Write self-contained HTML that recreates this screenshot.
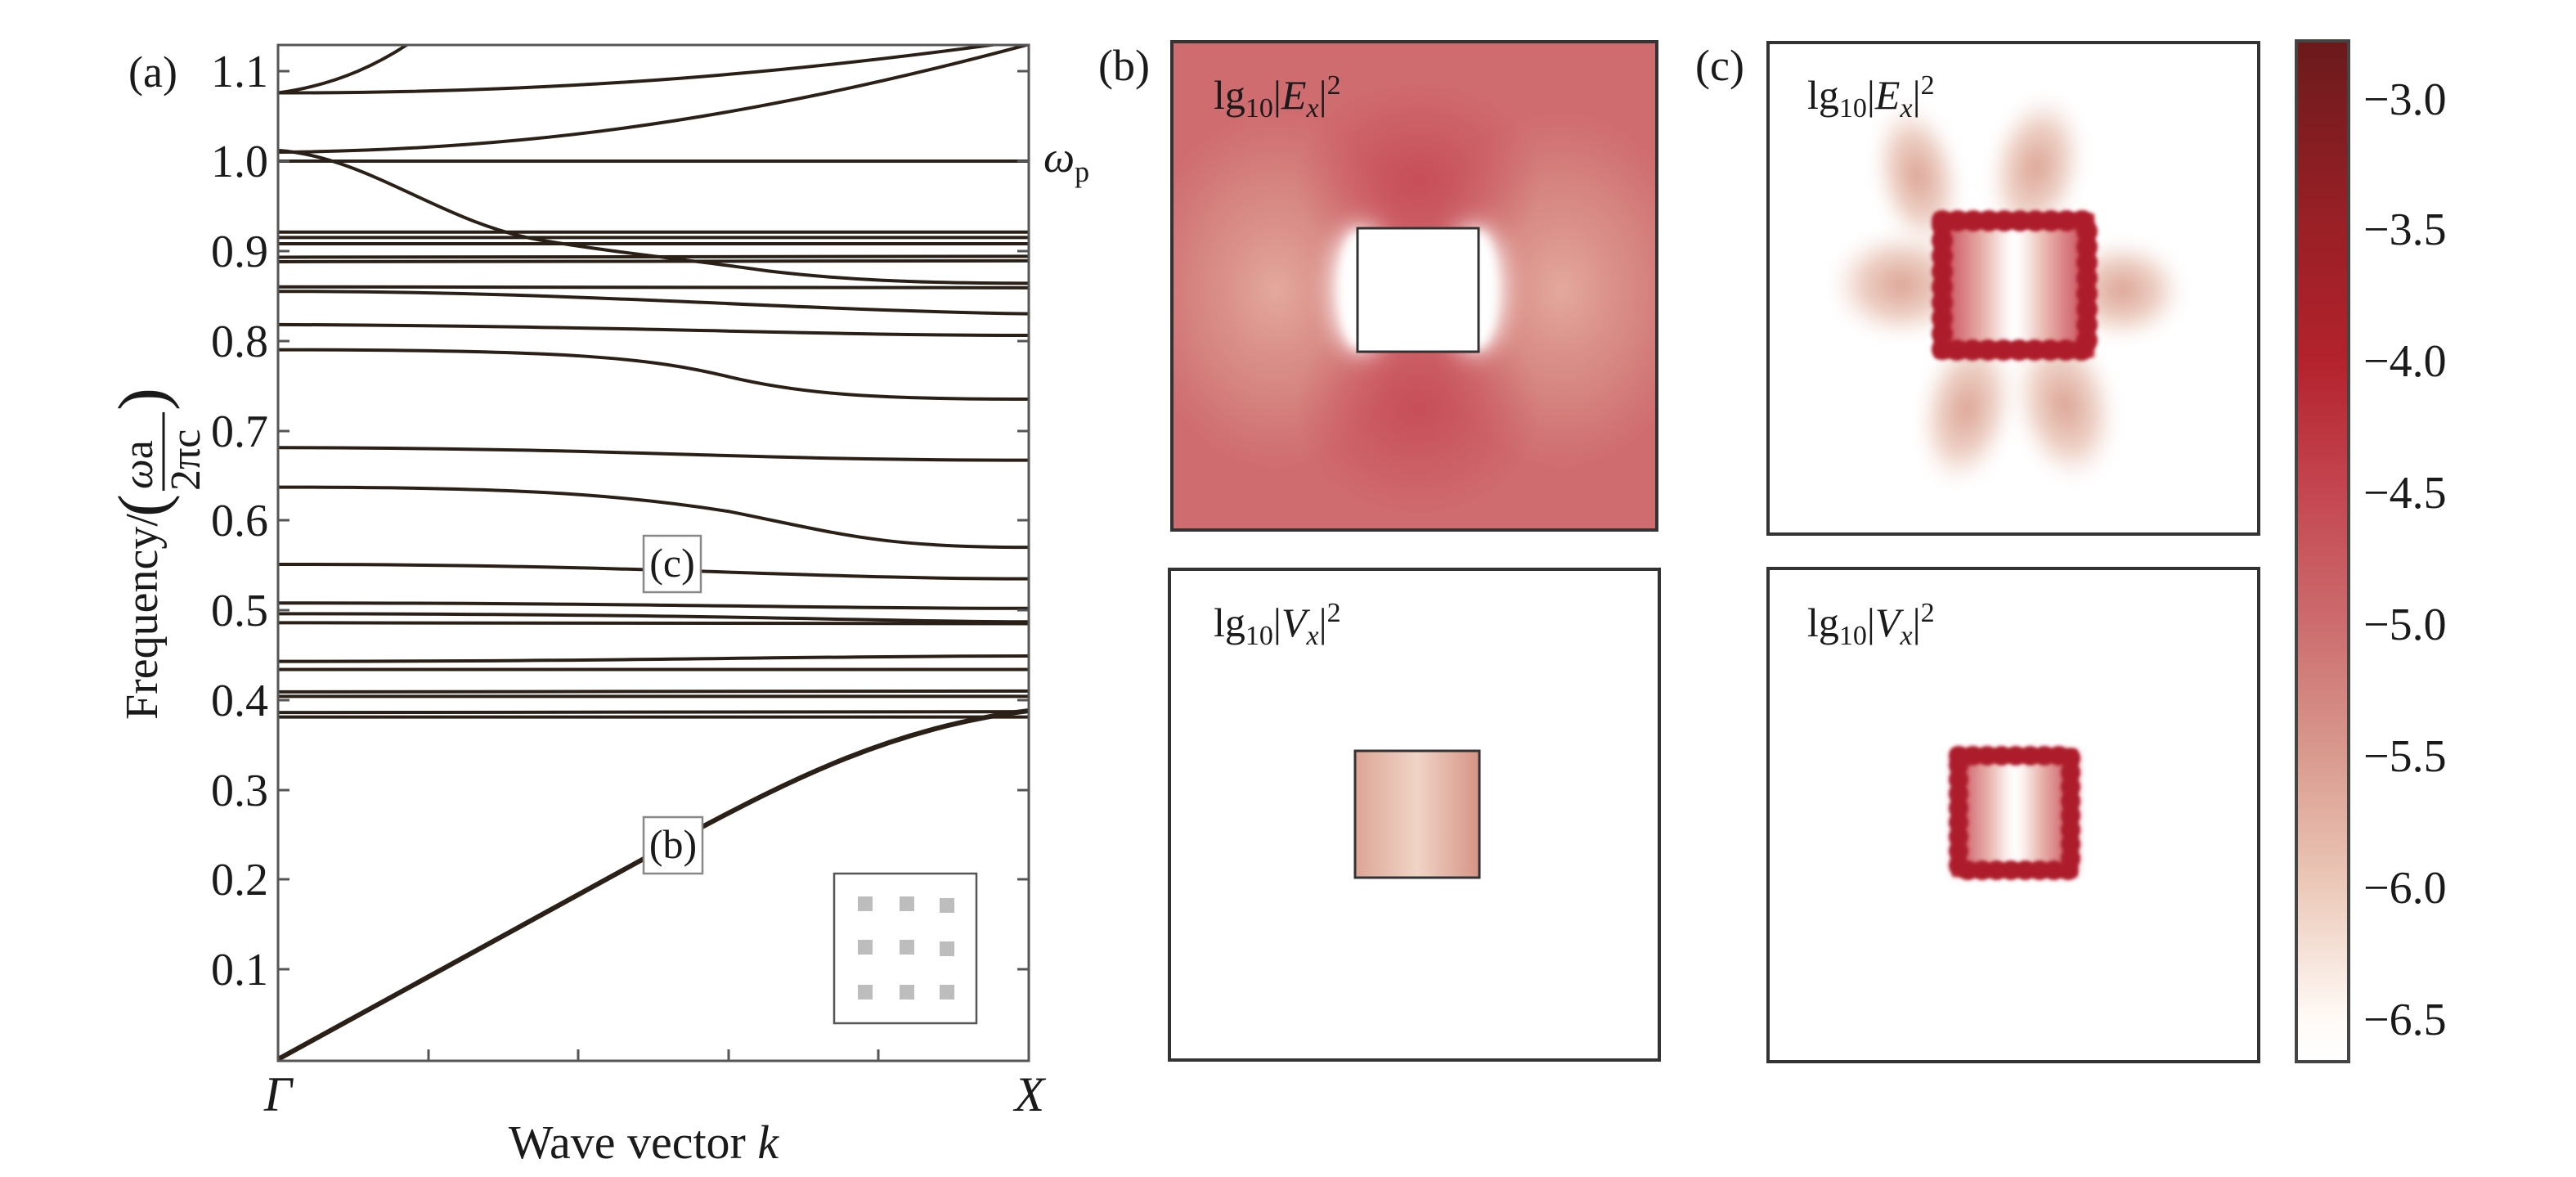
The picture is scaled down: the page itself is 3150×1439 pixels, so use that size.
<!DOCTYPE html>
<html><head><meta charset="utf-8"><style>
html,body{margin:0;padding:0;background:#fff;}
svg{display:block;font-family:"Liberation Serif",serif;}
text,tspan{font-family:"Liberation Serif",serif;}
text{fill:#1a1a1a;}
</style></head><body>
<svg width="3150" height="1439" viewBox="0 0 3150 1439" xmlns="http://www.w3.org/2000/svg" font-family="Liberation Serif, serif">
<defs>
  <clipPath id="plotclip"><rect x="340" y="55" width="918" height="1242"/></clipPath>
  <clipPath id="bclip"><rect x="1433" y="51" width="593" height="597"/></clipPath>
  <clipPath id="ctclip"><rect x="2162" y="52" width="600" height="601"/></clipPath>
  <filter id="blur15" x="-50%" y="-50%" width="200%" height="200%"><feGaussianBlur stdDeviation="15"/></filter>
  <filter id="blur8" x="-50%" y="-50%" width="200%" height="200%"><feGaussianBlur stdDeviation="8"/></filter>
  <filter id="blur6" x="-50%" y="-50%" width="200%" height="200%"><feGaussianBlur stdDeviation="6"/></filter>
  <filter id="blur2" x="-50%" y="-50%" width="200%" height="200%"><feGaussianBlur stdDeviation="2"/></filter>
  <linearGradient id="cbar" x1="0" y1="0" x2="0" y2="1">
    <stop offset="0" stop-color="#6a1a1c"/>
    <stop offset="0.057" stop-color="#7a1c20"/>
    <stop offset="0.183" stop-color="#9a2026"/>
    <stop offset="0.313" stop-color="#b3222d"/>
    <stop offset="0.441" stop-color="#c44650"/>
    <stop offset="0.57" stop-color="#cc6c6e"/>
    <stop offset="0.699" stop-color="#d99a8e"/>
    <stop offset="0.828" stop-color="#ecc9b9"/>
    <stop offset="0.957" stop-color="#fffaf6"/>
    <stop offset="1" stop-color="#ffffff"/>
  </linearGradient>
  <radialGradient id="dark" cx="0.5" cy="0.5" r="0.5">
    <stop offset="0" stop-color="#c4414f" stop-opacity="0.7"/>
    <stop offset="1" stop-color="#c4414f" stop-opacity="0"/>
  </radialGradient>
  <radialGradient id="light" cx="0.5" cy="0.5" r="0.5">
    <stop offset="0" stop-color="#e6b0a2" stop-opacity="0.9"/>
    <stop offset="0.6" stop-color="#dc9c90" stop-opacity="0.5"/>
    <stop offset="1" stop-color="#d8908a" stop-opacity="0"/>
  </radialGradient>
  <radialGradient id="lobe" cx="0.5" cy="0.5" r="0.5">
    <stop offset="0" stop-color="#dca294" stop-opacity="1"/>
    <stop offset="0.55" stop-color="#e9c4b6" stop-opacity="0.8"/>
    <stop offset="1" stop-color="#f8ece6" stop-opacity="0"/>
  </radialGradient>
  <linearGradient id="vsq" x1="0" y1="0" x2="1" y2="0">
    <stop offset="0" stop-color="#dca595"/>
    <stop offset="0.5" stop-color="#f0d4c6"/>
    <stop offset="1" stop-color="#d59485"/>
  </linearGradient>
  <linearGradient id="cin" x1="0" y1="0" x2="1" y2="0">
    <stop offset="0" stop-color="#c84858"/>
    <stop offset="0.3" stop-color="#eab8b0"/>
    <stop offset="0.47" stop-color="#ffffff"/>
    <stop offset="0.53" stop-color="#ffffff"/>
    <stop offset="0.7" stop-color="#eab8b0"/>
    <stop offset="1" stop-color="#c84858"/>
  </linearGradient>
</defs>

<!-- ============ Panel (a) ============ -->
<g clip-path="url(#plotclip)">
<g transform="translate(340,1295) scale(918,-1098)" fill="none" stroke="#2a2018" stroke-width="4">
  <path vector-effect="non-scaling-stroke" d="M0,1.076 C0.08,1.085 0.14,1.11 0.19,1.14"/>
  <path vector-effect="non-scaling-stroke" d="M0,1.076 C0.4,1.076 0.7,1.1 1,1.135"/>
  <path vector-effect="non-scaling-stroke" d="M0,1.01 C0.3,1.012 0.6,1.04 1,1.13"/>
  <path vector-effect="non-scaling-stroke" d="M0,1.0 L1,1.0"/>
  <path vector-effect="non-scaling-stroke" d="M0,1.012 C0.12,1.005 0.22,0.93 0.35,0.912 C0.45,0.898 0.55,0.89 0.65,0.878 C0.75,0.868 0.85,0.864 1,0.864"/>
  <path vector-effect="non-scaling-stroke" d="M0,0.921 L1,0.921"/>
  <path vector-effect="non-scaling-stroke" d="M0,0.915 L1,0.915"/>
  <path vector-effect="non-scaling-stroke" d="M0,0.908 L1,0.908"/>
  <path vector-effect="non-scaling-stroke" d="M0,0.893 L1,0.894"/>
  <path vector-effect="non-scaling-stroke" d="M0,0.888 L1,0.889"/>
  <path vector-effect="non-scaling-stroke" d="M0,0.860 L1,0.859"/>
  <path vector-effect="non-scaling-stroke" d="M0,0.855 C0.4,0.855 0.65,0.835 1,0.83"/>
  <path vector-effect="non-scaling-stroke" d="M0,0.818 C0.5,0.816 0.7,0.806 1,0.806"/>
  <path vector-effect="non-scaling-stroke" d="M0,0.79 C0.4,0.79 0.5,0.78 0.6,0.76 C0.7,0.74 0.8,0.735 1,0.735"/>
  <path vector-effect="non-scaling-stroke" d="M0,0.681 C0.5,0.68 0.6,0.667 1,0.667"/>
  <path vector-effect="non-scaling-stroke" d="M0,0.637 C0.3,0.637 0.45,0.63 0.6,0.61 C0.75,0.585 0.8,0.57 1,0.57"/>
  <path vector-effect="non-scaling-stroke" d="M0,0.551 C0.5,0.551 0.7,0.535 1,0.535"/>
  <path vector-effect="non-scaling-stroke" d="M0,0.508 C0.5,0.508 0.7,0.502 1,0.502"/>
  <path vector-effect="non-scaling-stroke" d="M0,0.496 C0.6,0.496 0.8,0.487 1,0.487"/>
  <path vector-effect="non-scaling-stroke" d="M0,0.486 L1,0.485"/>
  <path vector-effect="non-scaling-stroke" d="M0,0.443 C0.5,0.443 0.7,0.449 1,0.449"/>
  <path vector-effect="non-scaling-stroke" d="M0,0.434 L1,0.434"/>
  <path vector-effect="non-scaling-stroke" d="M0,0.409 L1,0.41"/>
  <path vector-effect="non-scaling-stroke" d="M0,0.404 L1,0.404"/>
  <path vector-effect="non-scaling-stroke" d="M0,0.386 L1,0.387"/>
  <path vector-effect="non-scaling-stroke" d="M0,0.381 L1,0.381"/>
  <path vector-effect="non-scaling-stroke" stroke-width="6" d="M0,0 L0.55,0.252 C0.68,0.31 0.82,0.37 1,0.388"/>
</g>
</g>
<rect x="340" y="55" width="918" height="1242" fill="none" stroke="#555" stroke-width="3"/>
<g stroke="#555" stroke-width="3">
  <line x1="340" y1="1185" x2="354" y2="1185"/><line x1="1258" y1="1185" x2="1244" y2="1185"/>
  <line x1="340" y1="1075" x2="354" y2="1075"/><line x1="1258" y1="1075" x2="1244" y2="1075"/>
  <line x1="340" y1="966" x2="354" y2="966"/><line x1="1258" y1="966" x2="1244" y2="966"/>
  <line x1="340" y1="856" x2="354" y2="856"/><line x1="1258" y1="856" x2="1244" y2="856"/>
  <line x1="340" y1="746" x2="354" y2="746"/><line x1="1258" y1="746" x2="1244" y2="746"/>
  <line x1="340" y1="636" x2="354" y2="636"/><line x1="1258" y1="636" x2="1244" y2="636"/>
  <line x1="340" y1="527" x2="354" y2="527"/><line x1="1258" y1="527" x2="1244" y2="527"/>
  <line x1="340" y1="417" x2="354" y2="417"/><line x1="1258" y1="417" x2="1244" y2="417"/>
  <line x1="340" y1="307" x2="354" y2="307"/><line x1="1258" y1="307" x2="1244" y2="307"/>
  <line x1="340" y1="197" x2="354" y2="197"/><line x1="1258" y1="197" x2="1244" y2="197"/>
  <line x1="340" y1="87" x2="354" y2="87"/><line x1="1258" y1="87" x2="1244" y2="87"/>
  <line x1="524" y1="1297" x2="524" y2="1283"/>
  <line x1="707" y1="1297" x2="707" y2="1283"/>
  <line x1="891" y1="1297" x2="891" y2="1283"/>
  <line x1="1074" y1="1297" x2="1074" y2="1283"/>
</g>
<g font-size="56" text-anchor="end">
  <text x="328" y="1204">0.1</text>
  <text x="328" y="1094">0.2</text>
  <text x="328" y="985">0.3</text>
  <text x="328" y="875">0.4</text>
  <text x="328" y="765">0.5</text>
  <text x="328" y="655">0.6</text>
  <text x="328" y="546">0.7</text>
  <text x="328" y="436">0.8</text>
  <text x="328" y="326">0.9</text>
  <text x="328" y="216">1.0</text>
  <text x="328" y="106">1.1</text>
</g>
<text x="157" y="106" font-size="54">(a)</text>
<text x="1276" y="210" font-size="54" font-style="italic">ω<tspan font-size="36" font-style="normal" dy="12">p</tspan></text>
<g transform="translate(192,880) rotate(-90)">
  <text x="0" y="0" font-size="56">Frequency/</text>
  <text x="248" y="10" font-size="84">(</text>
  <text x="282" y="-6" font-size="52" font-style="italic">ω<tspan font-style="normal">a</tspan></text>
  <line x1="280" y1="8" x2="376" y2="8" stroke="#1a1a1a" stroke-width="3"/>
  <text x="280" y="52" font-size="52">2πc</text>
  <text x="378" y="10" font-size="84">)</text>
</g>
<rect x="787" y="655" width="70" height="69" fill="#fff" stroke="#888" stroke-width="2.5"/>
<text x="822" y="705" font-size="50" text-anchor="middle">(c)</text>
<rect x="787" y="999" width="72" height="69" fill="#fff" stroke="#888" stroke-width="2.5"/>
<text x="823" y="1049" font-size="50" text-anchor="middle">(b)</text>
<rect x="1020" y="1068" width="174" height="183" fill="#fff" stroke="#555" stroke-width="2.5"/>
<g fill="#bdbdbd">
  <rect x="1049" y="1096" width="18" height="18"/><rect x="1100" y="1096" width="18" height="18"/><rect x="1149" y="1098" width="18" height="18"/>
  <rect x="1049" y="1149" width="18" height="18"/><rect x="1100" y="1149" width="18" height="18"/><rect x="1149" y="1151" width="18" height="18"/>
  <rect x="1049" y="1204" width="18" height="18"/><rect x="1100" y="1204" width="18" height="18"/><rect x="1149" y="1204" width="18" height="18"/>
</g>
<text x="340" y="1358" font-size="60" font-style="italic" text-anchor="middle">Γ</text>
<text x="1259" y="1358" font-size="60" font-style="italic" text-anchor="middle">X</text>
<text x="787" y="1416" font-size="58" text-anchor="middle">Wave vector <tspan font-style="italic">k</tspan></text>

<!-- ============ Panel (b) ============ -->
<text x="1343" y="98" font-size="54">(b)</text>
<g clip-path="url(#bclip)">
  <rect x="1433" y="51" width="593" height="597" fill="#cf6c70"/>
  <ellipse cx="1560" cy="355" rx="170" ry="220" fill="url(#light)"/>
  <ellipse cx="1910" cy="355" rx="170" ry="220" fill="url(#light)"/>
  <ellipse cx="1734" cy="220" rx="150" ry="120" fill="url(#dark)"/>
  <ellipse cx="1734" cy="500" rx="150" ry="130" fill="url(#dark)"/>
  <ellipse cx="1664" cy="354" rx="36" ry="78" fill="#fff" filter="url(#blur15)"/>
  <ellipse cx="1804" cy="354" rx="36" ry="78" fill="#fff" filter="url(#blur15)"/>
  <ellipse cx="1660" cy="354" rx="22" ry="72" fill="#fff" filter="url(#blur6)"/>
  <ellipse cx="1808" cy="354" rx="22" ry="72" fill="#fff" filter="url(#blur6)"/>
</g>
<rect x="1660" y="279" width="148" height="151" fill="#fff" stroke="#333" stroke-width="3"/>
<rect x="1433" y="51" width="593" height="597" fill="none" stroke="#333" stroke-width="4"/>
<text x="1484" y="133" font-size="50">lg<tspan font-size="34" dy="10">10</tspan><tspan dy="-10">|</tspan><tspan font-style="italic">E</tspan><tspan font-size="34" font-style="italic" dy="10">x</tspan><tspan dy="-10">|</tspan><tspan font-size="34" dy="-18">2</tspan></text>

<rect x="1430" y="696" width="599" height="600" fill="#fff" stroke="#333" stroke-width="4"/>
<rect x="1657" y="918" width="152" height="155" fill="url(#vsq)" stroke="#333" stroke-width="3"/>
<text x="1484" y="778" font-size="50">lg<tspan font-size="34" dy="10">10</tspan><tspan dy="-10">|</tspan><tspan font-style="italic">V</tspan><tspan font-size="34" font-style="italic" dy="10">x</tspan><tspan dy="-10">|</tspan><tspan font-size="34" dy="-18">2</tspan></text>

<!-- ============ Panel (c) ============ -->
<text x="2073" y="98" font-size="54">(c)</text>
<g clip-path="url(#ctclip)">
  <rect x="2162" y="52" width="600" height="601" fill="#fff"/>
  <g filter="url(#blur8)">
    <ellipse cx="2345" cy="215" rx="55" ry="95" fill="url(#lobe)" transform="rotate(-12 2345 215)"/>
    <ellipse cx="2490" cy="205" rx="60" ry="95" fill="url(#lobe)" transform="rotate(12 2490 205)"/>
    <ellipse cx="2325" cy="348" rx="90" ry="70" fill="url(#lobe)"/>
    <ellipse cx="2595" cy="355" rx="80" ry="65" fill="url(#lobe)"/>
    <ellipse cx="2405" cy="500" rx="60" ry="100" fill="url(#lobe)" transform="rotate(12 2405 500)"/>
    <ellipse cx="2525" cy="495" rx="65" ry="100" fill="url(#lobe)" transform="rotate(-12 2525 495)"/>
  </g>
  <rect x="2375" y="268" width="177" height="162" fill="url(#cin)" filter="url(#blur6)"/>
  <path d="M2375,270 H2552 V428 H2375 Z" fill="none" stroke="#c0303e" stroke-width="18" filter="url(#blur2)"/>
  <path d="M2375,270 H2552 V428 H2375 Z" fill="none" stroke="#ad1b2b" stroke-width="26" stroke-dasharray="0 19" stroke-linecap="round" filter="url(#blur2)"/>
</g>
<rect x="2162" y="52" width="600" height="601" fill="none" stroke="#333" stroke-width="4"/>
<text x="2210" y="133" font-size="50">lg<tspan font-size="34" dy="10">10</tspan><tspan dy="-10">|</tspan><tspan font-style="italic">E</tspan><tspan font-size="34" font-style="italic" dy="10">x</tspan><tspan dy="-10">|</tspan><tspan font-size="34" dy="-18">2</tspan></text>

<rect x="2162" y="695" width="600" height="603" fill="#fff" stroke="#333" stroke-width="4"/>
<rect x="2390" y="920" width="148" height="148" fill="url(#cin)" filter="url(#blur6)"/>
<path d="M2395,924 H2532 V1064 H2395 Z" fill="none" stroke="#c0303e" stroke-width="16" filter="url(#blur2)"/>
<path d="M2395,924 H2532 V1064 H2395 Z" fill="none" stroke="#ad1b2b" stroke-width="24" stroke-dasharray="0 17.5" stroke-linecap="round" filter="url(#blur2)"/>
<text x="2210" y="778" font-size="50">lg<tspan font-size="34" dy="10">10</tspan><tspan dy="-10">|</tspan><tspan font-style="italic">V</tspan><tspan font-size="34" font-style="italic" dy="10">x</tspan><tspan dy="-10">|</tspan><tspan font-size="34" dy="-18">2</tspan></text>

<rect x="2808" y="50" width="64" height="1248" fill="url(#cbar)" stroke="#444" stroke-width="4"/>
<g font-size="56">
  <text x="2890" y="140">−3.0</text>
  <text x="2890" y="299">−3.5</text>
  <text x="2890" y="460">−4.0</text>
  <text x="2890" y="621">−4.5</text>
  <text x="2890" y="782">−5.0</text>
  <text x="2890" y="943">−5.5</text>
  <text x="2890" y="1104">−6.0</text>
  <text x="2890" y="1265">−6.5</text>
</g>
</svg>
</body></html>
